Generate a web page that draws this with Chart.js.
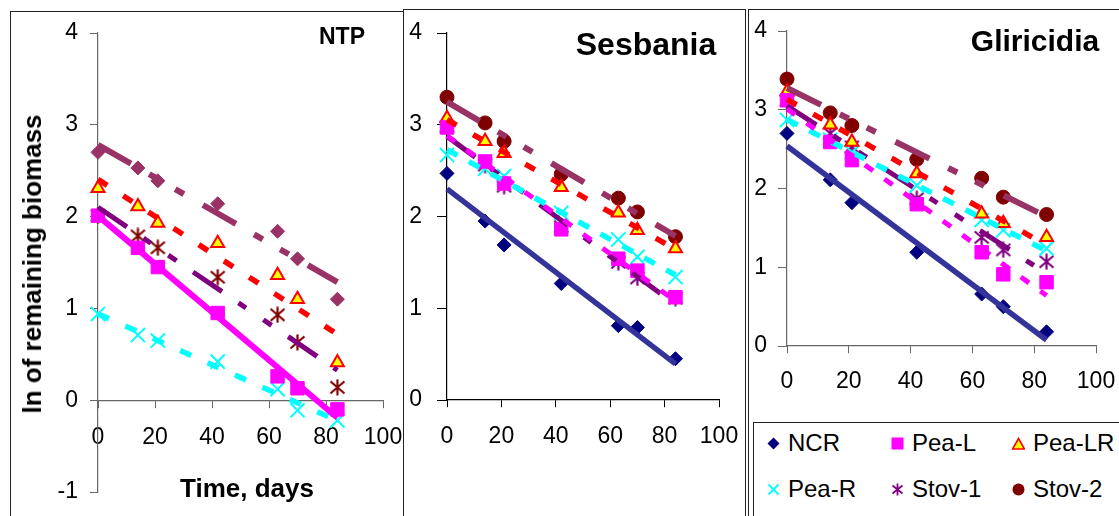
<!DOCTYPE html>
<html lang="en">
<head>
    <meta charset="UTF-8">
    <title>ln of remaining biomass</title>
    <script src="https://cdn.jsdelivr.net/npm/chart.js"></script>
    <style>
        body {
            margin: 0;
            width: 1119px;
            height: 516px;
            overflow: hidden;
            background: #fff;
            font-family: "Liberation Sans", Arial, sans-serif;
            position: relative;
        }
        .box {
            position: absolute;
            border: 1px solid #222;
            background: #fff;
            box-sizing: border-box;
        }
        canvas { position: absolute; }
        .lbl {
            position: absolute;
            white-space: nowrap;
            font-weight: bold;
            color: #000;
            line-height: 1;
            transform: translate(-50%, -50%);
        }
        .leg {
            position: absolute;
            font-size: 24px;
            line-height: 24px;
            white-space: nowrap;
        }
        .leg svg { position: absolute; }
    </style>
</head>
<body>
    <div class="box" style="left:10px;top:11px;width:420px;height:530px;z-index:1"></div>
    <canvas id="ntpChart" width="420" height="504" style="left:11px;top:12px;z-index:1"></canvas>
    <div class="lbl" style="left:342px;top:36px;font-size:23px;z-index:1">NTP</div>
    <div class="lbl" style="left:32px;top:264px;font-size:26px;z-index:1;transform:translate(-50%,-50%) rotate(-90deg)">ln of remaining biomass</div>
    <div class="lbl" style="left:247px;top:488px;font-size:26px;z-index:1">Time, days</div>

    <div class="box" style="left:403px;top:9px;width:343px;height:530px;z-index:2"></div>
    <canvas id="sesChart" width="341" height="506" style="left:404px;top:10px;z-index:2"></canvas>
    <div class="lbl" style="left:646px;top:44px;font-size:32px;z-index:2">Sesbania</div>

    <div class="box" style="left:748px;top:9px;width:400px;height:530px;z-index:3"></div>
    <canvas id="gliChart" width="369" height="410" style="left:750px;top:10px;z-index:3"></canvas>
    <div class="lbl" style="left:1035px;top:41px;font-size:30px;z-index:3">Gliricidia</div>

    <div class="box" id="legend" style="left:753px;top:422px;width:400px;height:120px;z-index:4"></div>

    <script>
        // sampling days
        const days = [0, 14, 21, 42, 63, 70, 84];
        const xTicks = [0, 20, 40, 60, 80, 100];
        const ntpYTicks = [-1, 0, 1, 2, 3, 4];
        const yTicks = [0, 1, 2, 3, 4];

        // NTP panel
        const ntpDiamond = [2.70, 2.53, 2.39, 2.14, 1.84, 1.54, 1.10];
        const ntpTriangle = [2.31, 2.11, 1.93, 1.71, 1.36, 1.10, 0.41];
        const ntpStar = [2.01, 1.79, 1.66, 1.34, 0.93, 0.63, 0.14];
        const ntpSquare = [2.01, 1.66, 1.45, 0.95, 0.26, 0.13, -0.10];
        const ntpCross = [0.94, 0.71, 0.65, 0.42, 0.12, -0.11, -0.22];

        // Sesbania panel
        const sesNCR = [2.47, 1.95, 1.69, 1.27, 0.81, 0.79, 0.45];
        const sesPeaL = [2.97, 2.60, 2.36, 1.86, 1.54, 1.41, 1.12];
        const sesPeaLR = [3.07, 2.82, 2.69, 2.32, 2.04, 1.85, 1.65];
        const sesPeaR = [2.67, 2.52, 2.44, 2.04, 1.75, 1.56, 1.34];
        const sesStov1 = [2.98, 2.56, 2.33, 1.89, 1.50, 1.33, 1.11];
        const sesStov2 = [3.30, 3.02, 2.82, 2.46, 2.20, 2.05, 1.78];

        // Gliricidia panel
        const gliNCR = [2.70, 2.11, 1.82, 1.19, 0.66, 0.50, 0.18];
        const gliPeaL = [3.12, 2.59, 2.36, 1.80, 1.19, 0.91, 0.81];
        const gliPeaLR = [3.23, 2.81, 2.59, 2.19, 1.68, 1.56, 1.38];
        const gliPeaR = [2.87, 2.62, 2.46, 2.04, 1.60, 1.47, 1.24];
        const gliStov1 = [3.12, 2.70, 2.53, 1.87, 1.38, 1.22, 1.07];
        const gliStov2 = [3.39, 2.96, 2.80, 2.37, 2.13, 1.89, 1.67];

        const legendNames = ["NCR", "Pea-L", "Pea-LR", "Pea-R", "Stov-1", "Stov-2"];

        // asterisk marker (vertical bar + x), like the excel one
        function asterisk(color) {
            const c = document.createElement("canvas");
            c.width = 17; c.height = 17;
            const g = c.getContext("2d");
            g.strokeStyle = color;
            g.lineWidth = 2.2;
            g.beginPath();
            g.moveTo(8.5, 0.5); g.lineTo(8.5, 16.5);
            g.moveTo(1.5, 2.5); g.lineTo(15.5, 14.5);
            g.moveTo(15.5, 2.5); g.lineTo(1.5, 14.5);
            g.stroke();
            return c;
        }

        const mk = {
            diamondNavy: { style: "rectRot", r: 7, fill: "#000080", stroke: "#000080", bw: 1 },
            diamondPlum: { style: "rectRot", r: 7, fill: "#993366", stroke: "#993366", bw: 1 },
            square: { style: "rect", r: 9.5, fill: "#ff00ff", stroke: "#ff00ff", bw: 1 },
            triangle: { style: "triangle", r: 7.5, fill: "#ffff00", stroke: "#ff0000", bw: 2 },
            cross: { style: "crossRot", r: 10, fill: "#00ffff", stroke: "#00ffff", bw: 2 },
            starPurple: { style: asterisk("#800080"), r: 8, fill: "#800080", stroke: "#800080", bw: 1 },
            starRed: { style: asterisk("#800000"), r: 8, fill: "#800000", stroke: "#800000", bw: 1 },
            circle: { style: "circle", r: 7, fill: "#800000", stroke: "#800000", bw: 1 }
        };

        const ln = {
            navy: { color: "#333399", width: 5.5, dash: [] },
            magentaSolid: { color: "#ff00ff", width: 6, dash: [] },
            magenta: { color: "#ff00ff", width: 5, dash: [10, 14] },
            red: { color: "#ff0000", width: 5.5, dash: [11, 19] },
            cyan: { color: "#00ffff", width: 5.5, dash: [12, 18] },
            plum: { color: "#993366", width: 6, dash: [38, 21, 10, 20, 10, 22] },
            purple: { color: "#800080", width: 5, dash: [35, 20, 9, 21, 10, 20] }
        };

        function pts(ys) {
            return days.map((d, i) => ({ x: d, y: ys[i] }));
        }

        // linear trendline over the sampled range (least squares)
        function trend(ys) {
            const n = days.length;
            const mx = days.reduce((a, b) => a + b, 0) / n;
            const my = ys.reduce((a, b) => a + b, 0) / n;
            let sxy = 0, sxx = 0;
            days.forEach((d, i) => { sxy += (d - mx) * (ys[i] - my); sxx += (d - mx) * (d - mx); });
            const b = sxy / sxx, a = my - b * mx;
            return [days[0], days[n - 1]].map(x => ({ x: x, y: a + b * x }));
        }

        function series(ys, m, l) {
            return [
                {
                    data: trend(ys), showLine: true, pointRadius: 0, order: 0, clip: false,
                    borderColor: l.color, borderWidth: l.width, borderDash: l.dash, borderCapStyle: "butt"
                },
                {
                    data: pts(ys), showLine: false, order: 1, clip: false,
                    pointStyle: m.style, pointRadius: m.r, pointHoverRadius: m.r,
                    pointBackgroundColor: m.fill, pointBorderColor: m.stroke, pointBorderWidth: m.bw
                }
            ];
        }

        const tickFont = { family: "'Liberation Sans', Arial, sans-serif", size: 23 };

        function makeChart(id, datasets, o) {
            new Chart(document.getElementById(id), {
                type: "scatter",
                data: { datasets: datasets },
                options: {
                    responsive: false,
                    animation: false,
                    events: [],
                    layout: { padding: o.pad },
                    plugins: { legend: { display: false }, tooltip: { enabled: false } },
                    scales: {
                        x: {
                            type: "linear", min: 0, max: 100, position: { y: 0 },
                            afterFit: s => { s.height = 0; s.paddingLeft = 0; s.paddingRight = 0; },
                            afterBuildTicks: s => { s.ticks = xTicks.map(v => ({ value: v })); },
                            ticks: { font: tickFont, color: "#000", padding: o.xPad, maxRotation: 0, autoSkip: false },
                            grid: { drawOnChartArea: false, tickLength: 7, color: o.axis },
                            border: { color: o.axis, width: 1.2 }
                        },
                        y: {
                            type: "linear", min: o.yTicks[0], max: 4,
                            afterFit: s => { s.width = o.yW; s.paddingTop = 0; s.paddingBottom = 0; },
                            afterBuildTicks: s => { s.ticks = o.yTicks.map(v => ({ value: v })); },
                            ticks: { font: tickFont, color: "#000", padding: o.yPad },
                            grid: { drawOnChartArea: false, tickLength: o.yTick, color: o.axis },
                            border: { color: o.axis, width: 1.2 }
                        }
                    }
                }
            });
        }

        makeChart("ntpChart", [
            ...series(ntpSquare, mk.square, ln.magentaSolid),
            ...series(ntpDiamond, mk.diamondPlum, ln.plum),
            ...series(ntpTriangle, mk.triangle, ln.red),
            ...series(ntpStar, mk.starRed, ln.purple),
            ...series(ntpCross, mk.cross, ln.cyan)
        ], { pad: { left: 0, right: 48, top: 21, bottom: 24 }, yTicks: ntpYTicks,
             yW: 87, yTick: 8, yPad: 12, xPad: 17, axis: "#666" });

        makeChart("sesChart", [
            ...series(sesNCR, mk.diamondNavy, ln.navy),
            ...series(sesPeaL, mk.square, ln.magenta),
            ...series(sesPeaLR, mk.triangle, ln.red),
            ...series(sesPeaR, mk.cross, { ...ln.cyan, dash: [12, 13] }),
            ...series(sesStov1, mk.starPurple, ln.purple),
            ...series(sesStov2, mk.circle, ln.plum)
        ], { pad: { left: 0, right: 26, top: 23, bottom: 116 }, yTicks: yTicks,
             yW: 43, yTick: 10, yPad: 15, xPad: 16, axis: "#000" });

        makeChart("gliChart", [
            ...series(gliNCR, mk.diamondNavy, ln.navy),
            ...series(gliPeaL, mk.square, ln.magenta),
            ...series(gliPeaLR, mk.triangle, ln.red),
            ...series(gliPeaR, mk.cross, { ...ln.cyan, dash: [12, 13] }),
            ...series(gliStov1, mk.starPurple, ln.purple),
            ...series(gliStov2, mk.circle, ln.plum)
        ], { pad: { left: 0, right: 23, top: 21, bottom: 74 }, yTicks: yTicks,
             yW: 37, yTick: 9, yPad: 11, xPad: 15, axis: "#666" });

        // legend below the Gliricidia panel
        const icons = [
            '<polygon points="6,0 12,6 6,12 0,6" fill="#000080"/>',
            '<rect x="0" y="0" width="12" height="12" fill="#ff00ff"/>',
            '<polygon points="6,1 12,11.5 0,11.5" fill="#ffff00" stroke="#ff0000" stroke-width="1.6"/>',
            '<path d="M1 1 L11 11 M11 1 L1 11" stroke="#00ffff" stroke-width="1.8"/>',
            '<path d="M6 0 L6 12 M1 2 L11 10 M11 2 L1 10" stroke="#800080" stroke-width="1.8"/>',
            '<circle cx="6" cy="6" r="6" fill="#800000"/>'
        ];
        const colX = [773, 897, 1018], rowY = [443, 489];
        const legend = document.getElementById("legend");
        legendNames.forEach((name, i) => {
            const cx = colX[i % 3], cy = rowY[Math.floor(i / 3)];
            const item = document.createElement("div");
            item.className = "leg";
            item.style.left = (cx - 753 + 15 - 1) + "px";
            item.style.top = (cy - 422 - 12 - 1) + "px";
            item.innerHTML = '<svg width="13" height="13" viewBox="-0.5 -0.5 13 13" style="left:-21px;top:6px">' +
                icons[i] + '</svg>' + name;
            legend.appendChild(item);
        });
    </script>
</body>
</html>
